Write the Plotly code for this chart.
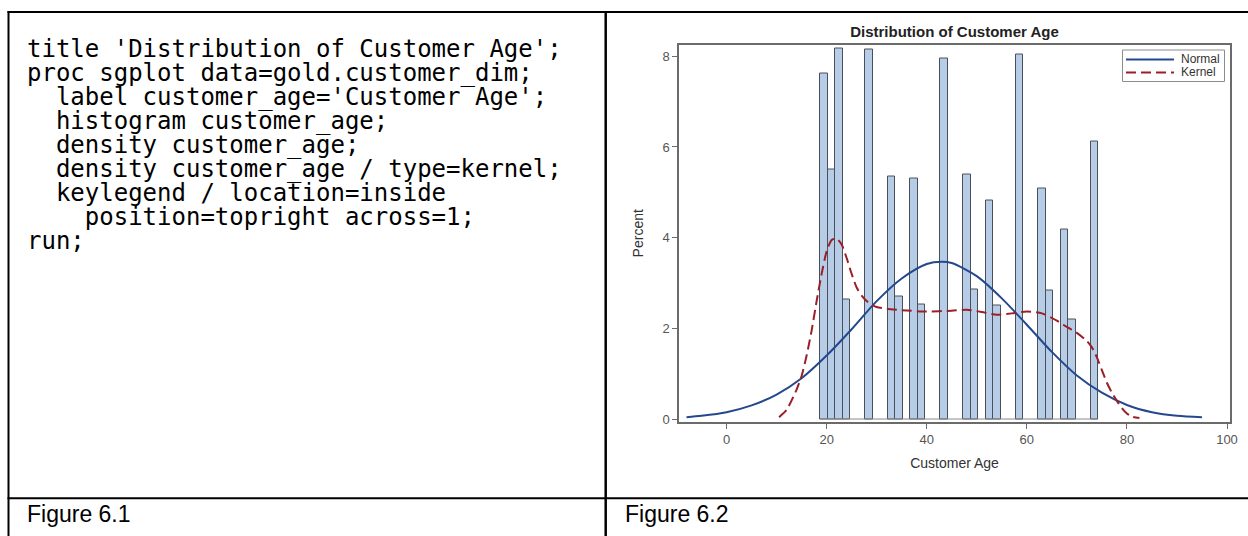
import plotly.graph_objects as go

W, H = 1248, 536

# ---------------- data ----------------
code_lines = [
    "title 'Distribution of Customer Age';",
    "proc sgplot data=gold.customer_dim;",
    "  label customer_age='Customer Age';",
    "  histogram customer_age;",
    "  density customer_age;",
    "  density customer_age / type=kernel;",
    "  keylegend / location=inside",
    "    position=topright across=1;",
    "run;",
]
captions = ["Figure 6.1", "Figure 6.2"]
chart_title = "Distribution of Customer Age"
x_label = "Customer Age"
y_label = "Percent"
series_names = ["Normal", "Kernel"]

bin_width = 1.5
bin_centers = [19.5, 21, 22.5, 24, 28.5, 33, 34.5, 37.5, 39, 43.5,
               48, 49.5, 52.5, 54, 58.5, 63, 64.5, 67.5, 69, 73.5]
bin_percent = [7.61, 5.50, 8.17, 2.63, 8.15, 5.35, 2.71, 5.31, 2.52, 7.96,
               5.39, 2.86, 4.82, 2.50, 8.05, 5.09, 2.83, 4.17, 2.20, 6.12]

normal_x = [-8, -5, 0, 5, 10, 15, 20, 25, 30, 35, 40, 43, 45, 50, 55, 60,
            65, 70, 75, 80, 85, 90, 95]
normal_y = [0.04, 0.07, 0.15, 0.30, 0.54, 0.90, 1.40, 1.98, 2.60, 3.10, 3.42,
            3.47, 3.44, 3.15, 2.66, 2.08, 1.48, 0.96, 0.58, 0.31, 0.15, 0.07, 0.04]

kernel_x = [10.5, 12, 14, 15, 16, 17, 18, 19, 20, 21, 22, 23, 24, 25, 26, 27,
            28, 29, 30, 32, 35, 40, 45, 48, 51, 54, 57, 60, 63, 66, 68, 70,
            72, 73, 74, 75, 76, 77, 78, 79, 80, 81, 82.5]
kernel_y = [0.04, 0.20, 0.65, 0.95, 1.40, 1.95, 2.60, 3.20, 3.70, 3.95, 3.98,
            3.85, 3.55, 3.20, 2.90, 2.72, 2.60, 2.52, 2.47, 2.43, 2.40, 2.37,
            2.39, 2.41, 2.36, 2.30, 2.33, 2.37, 2.33, 2.17, 2.03, 1.90, 1.72,
            1.58, 1.36, 1.08, 0.80, 0.58, 0.40, 0.24, 0.12, 0.05, 0.02]

x_ticks = [0, 20, 40, 60, 80, 100]
y_ticks = [0, 2, 4, 6, 8]

# ---------------- helpers ----------------
def px(x):
    return x / W


def py(y):
    return 1 - y / H


SANS = "Liberation Sans, Arial, sans-serif"
MONO = "DejaVu Sans Mono, monospace"
AXIS_COL = "#6b6b6b"
NORMAL_COL = "#24488E"
KERNEL_COL = "#9A1F27"
KERNEL_DASH = "10px,5px"

fig = go.Figure()

fig.add_trace(go.Bar(
    x=bin_centers, y=bin_percent, width=bin_width,
    marker=dict(color="#B7CCE6", line=dict(color="#4a5058", width=1)),
    showlegend=False, hoverinfo="skip",
))
# outline of the empty bins along the baseline
fig.add_trace(go.Scatter(
    x=[min(bin_centers) - bin_width / 2, max(bin_centers) + bin_width / 2],
    y=[0, 0], mode="lines", line=dict(color="#8a8a8a", width=1),
    showlegend=False, hoverinfo="skip",
))
fig.add_trace(go.Scatter(
    x=normal_x, y=normal_y, mode="lines", name=series_names[0], showlegend=False,
    line=dict(color=NORMAL_COL, width=2, shape="spline", smoothing=0.8),
))
fig.add_trace(go.Scatter(
    x=kernel_x, y=kernel_y, mode="lines", name=series_names[1], showlegend=False,
    line=dict(color=KERNEL_COL, width=2, dash=KERNEL_DASH, shape="spline", smoothing=0.6),
))

# ---------------- table frame ----------------
line_black = dict(color="black", width=2)
shapes = [
    dict(type="line", xref="paper", yref="paper", x0=px(7.5), x1=px(W), y0=py(12), y1=py(12), line=line_black),
    dict(type="line", xref="paper", yref="paper", x0=px(8.5), x1=px(8.5), y0=py(11), y1=py(H), line=line_black),
    dict(type="line", xref="paper", yref="paper", x0=px(605.7), x1=px(605.7), y0=py(11), y1=py(H),
         line=dict(color="black", width=2.5)),
    dict(type="line", xref="paper", yref="paper", x0=px(7.5), x1=px(W), y0=py(498.3), y1=py(498.3), line=line_black),
]

# ---------------- inside legend (top right, one column) ----------------
shapes.append(dict(type="rect", xref="paper", yref="paper", layer="above",
                   x0=px(1122.5), x1=px(1224.5), y0=py(81.5), y1=py(50),
                   line=dict(color="#8c8c8c", width=1), fillcolor="white"))
legend_rows = [(59.5, NORMAL_COL, "solid"), (72.5, KERNEL_COL, KERNEL_DASH)]
annotations = []
for (ry, col, dash), name in zip(legend_rows, series_names):
    shapes.append(dict(type="line", xref="paper", yref="paper", layer="above",
                       x0=px(1126), x1=px(1174), y0=py(ry), y1=py(ry),
                       line=dict(color=col, width=2, dash=dash)))
    annotations.append(dict(text=name, xref="paper", yref="paper",
                            x=px(1178.5), y=py(ry), xanchor="left", yanchor="middle",
                            showarrow=False,
                            font=dict(family=SANS, size=12, color="#333333")))

for i, ln in enumerate(code_lines):
    annotations.append(dict(
        text=ln.replace(" ", "\u00a0"), xref="paper", yref="paper",
        x=px(25.0), y=py(48.7 + 24 * i), xanchor="left", yanchor="middle",
        showarrow=False, font=dict(family=MONO, size=24, color="black"),
    ))
for cx, cap in zip([25.0, 623.0], captions):
    annotations.append(dict(
        text=cap, xref="paper", yref="paper", x=px(cx), y=py(513.5),
        xanchor="left", yanchor="middle", showarrow=False,
        font=dict(family=SANS, size=23, color="black"),
    ))

fig.update_layout(
    width=W, height=H, template="none",
    margin=dict(l=0, r=0, t=0, b=0),
    paper_bgcolor="white", plot_bgcolor="white",
    shapes=shapes, annotations=annotations,
    bargap=0, showlegend=False,
    title=dict(text="<b>" + chart_title + "</b>", xref="container", yref="container",
               x=954.5 / W, y=py(31.7), xanchor="center", yanchor="middle",
               font=dict(family=SANS, size=15, color="#222222")),
    xaxis=dict(domain=[px(679), px(1230)], range=[-9.5, 100.6],
               tickvals=x_ticks, ticktext=[str(v) for v in x_ticks],
               ticks="outside", ticklen=5, tickwidth=1, tickcolor=AXIS_COL,
               showline=True, linecolor=AXIS_COL, linewidth=1.5, mirror=True,
               showgrid=False, zeroline=False, automargin=False,
               tickfont=dict(family=SANS, size=13, color="#555555"),
               title=dict(text=x_label, standoff=12,
                          font=dict(family=SANS, size=14, color="#333333"))),
    yaxis=dict(domain=[py(422), py(44.5)], range=[-0.066, 8.26],
               tickvals=y_ticks, ticktext=[str(v) for v in y_ticks],
               ticks="outside", ticklen=5, tickwidth=1, tickcolor=AXIS_COL,
               showline=True, linecolor=AXIS_COL, linewidth=1.5, mirror=True,
               showgrid=False, zeroline=False, automargin=False,
               tickfont=dict(family=SANS, size=13, color="#555555"),
               title=dict(text=y_label, standoff=16,
                          font=dict(family=SANS, size=14, color="#333333"))),
)

fig.write_html("out.html")
